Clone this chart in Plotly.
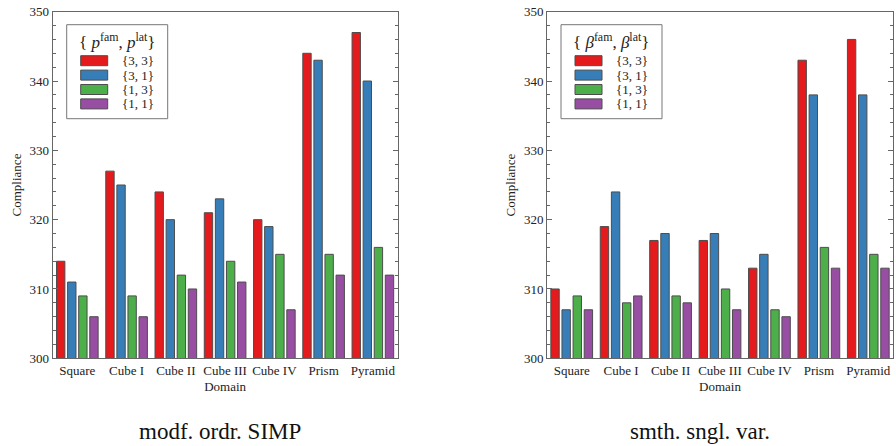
import plotly.graph_objects as go

domains = ["Square", "Cube I", "Cube II", "Cube III", "Cube IV", "Prism", "Pyramid"]
series_labels = ["{3, 3}", "{3, 1}", "{1, 3}", "{1, 1}"]
colors = ["#E41A1C", "#377EB8", "#4DAF4A", "#984EA3"]

# Left panel: modf. ordr. SIMP
simp_33 = [314, 327, 324, 321, 320, 344, 347]
simp_31 = [311, 325, 320, 323, 319, 343, 340]
simp_13 = [309, 309, 312, 314, 315, 315, 316]
simp_11 = [306, 306, 310, 311, 307, 312, 312]

# Right panel: smth. sngl. var.
ssv_33 = [310, 319, 317, 317, 313, 343, 346]
ssv_31 = [307, 324, 318, 318, 315, 338, 338]
ssv_13 = [309, 308, 309, 310, 307, 316, 315]
ssv_11 = [307, 309, 308, 307, 306, 313, 313]

y_range = [300, 350]
captions = ["modf. ordr. SIMP", "smth. sngl. var."]
legend_titles = ["{ <i>p</i><sup>fam</sup>, <i>p</i><sup>lat</sup>}",
                 "{ <i>β</i><sup>fam</sup>, <i>β</i><sup>lat</sup>}"]

W, H = 896, 446
FONT = "'Liberation Serif', 'Times New Roman', serif"
AX = "#666666"

fig = go.Figure()

panels = [
    ("x", "y", [simp_33, simp_31, simp_13, simp_11]),
    ("x2", "y2", [ssv_33, ssv_31, ssv_13, ssv_11]),
]
for xa, ya, vals in panels:
    for lab, col, v in zip(series_labels, colors, vals):
        fig.add_trace(go.Bar(
            x=domains, y=v, name=lab, xaxis=xa, yaxis=ya,
            marker=dict(color=col, line=dict(color="#4d4d4d", width=1)),
            showlegend=False,
        ))

# pixel geometry of plot areas
left_px = [(52.7, 397.5), (547.0, 893.0)]
top_px, bot_px = 11.7, 358.3

def xdom(a, b):
    return [a / W, b / W]

ydom = [(H - bot_px) / H, (H - top_px) / H]

common_x = dict(
    showline=True, linecolor=AX, linewidth=1, mirror=True, ticks="",
    tickfont=dict(family=FONT, size=13, color="#222"),
    title=dict(text="Domain", font=dict(family=FONT, size=13, color="#222"), standoff=4),
    range=[-0.5, 6.5], showgrid=False, zeroline=False,
)
common_y = dict(
    showline=True, linecolor=AX, linewidth=1, mirror="ticks",
    ticks="inside", ticklen=5, tickcolor=AX, tickwidth=1,
    dtick=10, range=y_range, showgrid=False, zeroline=False,
    minor=dict(dtick=2, ticks="inside", ticklen=3, tickcolor=AX, showgrid=False),
    tickfont=dict(family=FONT, size=13, color="#222"),
    title=dict(text="Compliance", font=dict(family=FONT, size=13, color="#222"), standoff=5),
)

fig.update_layout(
    width=W, height=H,
    margin=dict(l=0, r=0, t=0, b=0, autoexpand=False),
    paper_bgcolor="white", plot_bgcolor="white",
    barmode="group", bargap=0.10, bargroupgap=0.245,
    showlegend=False,
    xaxis=dict(domain=xdom(*left_px[0]), anchor="y", **common_x),
    yaxis=dict(domain=ydom, anchor="x", **common_y),
    xaxis2=dict(domain=xdom(*left_px[1]), anchor="y2", **common_x),
    yaxis2=dict(domain=ydom, anchor="x2", **common_y),
)

# Manual legends (inside each panel, in axis-domain coordinates)
PH = bot_px - top_px
shapes = []
annotations = []
for i, (xa, ya) in enumerate([("x", "y"), ("x2", "y2")]):
    PW = left_px[i][1] - left_px[i][0]
    xr, yr = xa + " domain", ya + " domain"
    fx = lambda d: d / PW
    fy = lambda d: 1 - d / PH
    shapes.append(dict(type="rect", xref=xr, yref=yr,
                       x0=fx(14), x1=fx(115), y0=fy(13), y1=fy(107),
                       line=dict(color="#777", width=1), fillcolor="white", layer="above"))
    annotations.append(dict(text=legend_titles[i], xref=xr, yref=yr,
                            x=fx(64), y=fy(29), showarrow=False,
                            font=dict(family=FONT, size=17, color="#222"),
                            xanchor="center", yanchor="middle"))
    for k, (lab, col) in enumerate(zip(series_labels, colors)):
        cy = 49 + 14.4 * k
        shapes.append(dict(type="rect", xref=xr, yref=yr,
                           x0=fx(28), x1=fx(55), y0=fy(cy + 5), y1=fy(cy - 5),
                           line=dict(color="#4d4d4d", width=1), fillcolor=col, layer="above"))
        annotations.append(dict(text=lab, xref=xr, yref=yr, x=fx(85), y=fy(cy),
                                showarrow=False, xanchor="center", yanchor="middle",
                                font=dict(family=FONT, size=13, color="#222")))

# captions
for cx, cap in zip([220, 700], captions):
    annotations.append(dict(text=cap, xref="paper", yref="paper",
                            x=cx / W, y=(H - 431) / H, showarrow=False,
                            xanchor="center", yanchor="middle",
                            font=dict(family=FONT, size=23, color="#111")))

fig.update_layout(shapes=shapes, annotations=annotations)
fig.write_html(
    "out.html",
    config={"displayModeBar": False},
    post_script="document.body.style.margin='0';document.body.style.overflow='hidden';",
)
